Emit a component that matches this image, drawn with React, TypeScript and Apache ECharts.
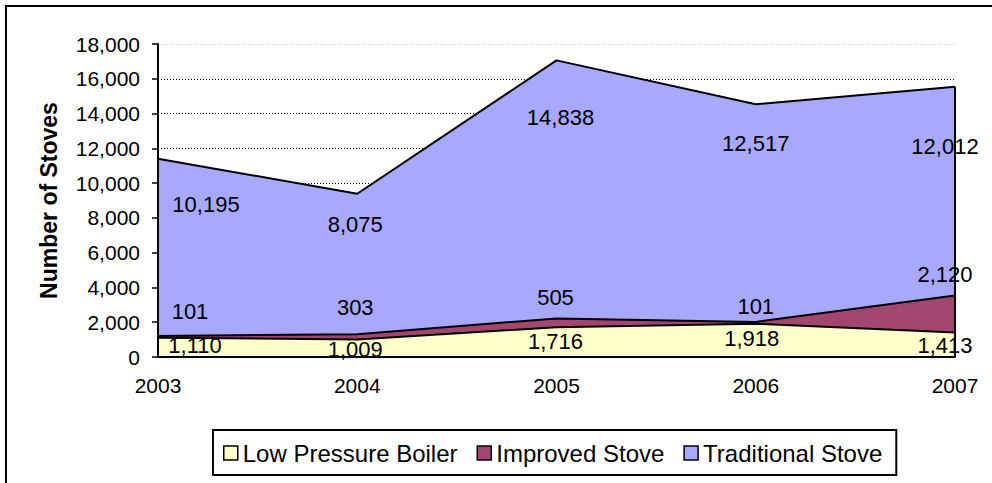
import React, { useEffect, useRef } from "react";
import * as echarts from "echarts";

const years = ["2003", "2004", "2005", "2006", "2007"];
const lowPressureBoiler = [1110, 1009, 1716, 1918, 1413];
const improvedStove = [101, 303, 505, 101, 2120];
const traditionalStove = [10195, 8075, 14838, 12517, 12012];
const yTicks = [0, 2000, 4000, 6000, 8000, 10000, 12000, 14000, 16000, 18000];

// label offsets (style only)
const lowOffsets = [[37, 8], [-2, 10], [-1, 14], [-4, 15], [-10, 13]];
const impOffsets = [[32, -24], [-2, -27], [-1, -21], [0, -15], [-10, -21]];
const tradOffsets = [[48, 46], [-2, 31], [4, 57], [0, 39], [-10, 60]];

const FONT = "'Liberation Sans', Arial, sans-serif";
const fmt = (v: number) => v.toLocaleString("en-US");

const COLORS = {
  low: "#FFFFCC",
  imp: "#A3466F",
  trad: "#A8A8FF",
};

function buildData(values: number[], offsets: number[][]) {
  return values.map((v, i) => ({
    value: v,
    label: { offset: offsets[i] },
  }));
}

export default function App() {
  const ref = useRef<HTMLDivElement>(null);
  useEffect(() => {
    if (!ref.current) return;
    const chart = echarts.init(ref.current, undefined, { renderer: "svg" });
    const totals = years.map(
      (_, i) => lowPressureBoiler[i] + improvedStove[i] + traditionalStove[i]
    );
    const last = years.length - 1;
    const labelBase = {
      show: true,
      position: "inside",
      color: "#000",
      fontSize: 22,
      fontFamily: FONT,
      formatter: (p: any) => fmt(p.value),
    };
    const mkSeries = (name: string, values: number[], offsets: number[][], color: string, z: number) => ({
      name,
      type: "line",
      stack: "total",
      yAxisIndex: 0,
      data: buildData(values, offsets),
      symbol: "circle",
      symbolSize: 0.01,
      itemStyle: { color },
      lineStyle: { color: "#000", width: 2 },
      areaStyle: { color, opacity: 1 },
      label: labelBase,
      z,
    });
    const tradSeries: any = mkSeries("Traditional Stove", traditionalStove, tradOffsets, COLORS.trad, 2);
    tradSeries.markLine = {
      silent: true,
      symbol: "none",
      label: { show: false },
      lineStyle: { color: "#000", width: 2, type: "solid" },
      data: [[{ coord: [years[last], 0] }, { coord: [years[last], totals[last]] }]],
    };
    const option: any = {
      animation: false,
      backgroundColor: "#fff",
      textStyle: { fontFamily: FONT },
      graphic: [
        {
          type: "rect",
          shape: { x: 6, y: 6, width: 1000, height: 1000 },
          style: { fill: "none", stroke: "#000", lineWidth: 2 },
          silent: true,
        },
      ],
      grid: { left: 158, right: 37, top: 44, bottom: 126, containLabel: false },
      legend: {
        left: 213,
        top: 430,
        padding: [11, 14, 10, 10],
        borderColor: "#000",
        borderWidth: 2,
        itemGap: 19,
        itemWidth: 14,
        itemHeight: 14,
        icon: "rect",
        textStyle: { fontSize: 24, color: "#000", fontFamily: FONT },
        data: [
          { name: "Low Pressure Boiler", itemStyle: { color: COLORS.low, borderColor: "#000", borderWidth: 1.5 } },
          { name: "Improved Stove", itemStyle: { color: COLORS.imp, borderColor: "#000", borderWidth: 1.5 } },
          { name: "Traditional Stove", itemStyle: { color: COLORS.trad, borderColor: "#000", borderWidth: 1.5 } },
        ],
      },
      xAxis: {
        type: "category",
        data: years,
        boundaryGap: false,
        axisLine: { lineStyle: { color: "#000", width: 2 } },
        axisTick: { show: false },
        axisLabel: { color: "#000", fontSize: 21, margin: 18, fontFamily: FONT },
        splitLine: { show: false },
        z: 5,
      },
      yAxis: [
        {
          type: "value",
          position: "left",
          min: 0,
          max: 18000,
          interval: 2000,
          name: "Number of Stoves",
          nameLocation: "middle",
          nameRotate: 90,
          nameGap: 98,
          nameTextStyle: { fontSize: 23, fontWeight: "bold", color: "#000", fontFamily: FONT },
          axisLine: { show: false },
          axisTick: { show: false },
          axisLabel: {
            color: "#000",
            fontSize: 21,
            margin: 18,
            fontFamily: FONT,
            formatter: (v: number) => (yTicks.includes(v) ? fmt(v) : ""),
          },
          splitLine: {
            show: true,
            lineStyle: {
              color: ["#000", "#000", "#000", "#000", "#000", "#000", "#000", "#000", "#000", "#c8c8c8"],
              type: [1, 2],
              width: 1,
            },
          },
          z: 0,
        },
        {
          type: "value",
          position: "left",
          offset: 0,
          min: 0,
          max: 18000,
          interval: 2000,
          axisLine: { show: true, lineStyle: { color: "#000", width: 2 } },
          axisTick: { show: true, length: 6, lineStyle: { color: "#000", width: 1.5 } },
          axisLabel: { show: false },
          splitLine: { show: false },
          z: 6,
        },
      ],
      series: [
        mkSeries("Low Pressure Boiler", lowPressureBoiler, lowOffsets, COLORS.low, 4),
        mkSeries("Improved Stove", improvedStove, impOffsets, COLORS.imp, 3),
        tradSeries,
      ],
    };
    chart.setOption(option);
    return () => chart.dispose();
  }, []);
  return (
    <div
      ref={ref}
      style={{ position: "fixed", left: 0, top: 0, width: 992, height: 483 }}
    />
  );
}
